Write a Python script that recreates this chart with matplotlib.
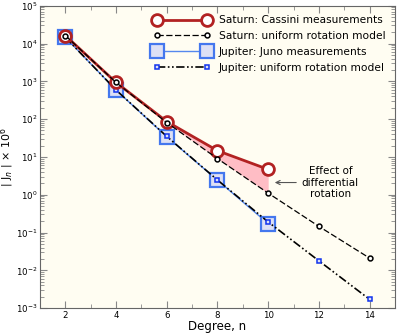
import matplotlib
matplotlib.use("Agg")
import matplotlib.pyplot as plt
import numpy as np

n_meas_sat = [2, 4, 6, 8, 10]
sat_cassini = [16290.57, 935.31, 86.34, 14.624, 4.672]
n_model = [2, 4, 6, 8, 10, 12, 14]
sat_uniform = [16290.0, 935.0, 81.0, 9.0, 1.1, 0.145, 0.021]
n_meas_jup = [2, 4, 6, 8, 10]
jup_juno = [14696.5, 586.6, 34.2, 2.42, 0.172]
jup_uniform = [14696.0, 590.0, 34.9, 2.45, 0.19, 0.0178, 0.0017]

fig = plt.figure(figsize=(3.99, 3.36), dpi=100)
ax = fig.add_axes([0.100, 0.083, 0.890, 0.900])
ax.set_facecolor('#fffdf2')

# fill region (effect of differential rotation)
ax.fill_between(n_meas_sat[2:], sat_cassini[2:], sat_uniform[2:5],
                color='#ffb6c1', alpha=0.9, lw=0, zorder=1)

ax.plot(n_meas_sat, sat_cassini, '-o', color='#b22222', lw=2.0,
        ms=8.5, mfc='white', mec='#b22222', mew=2.0,
        label='Saturn: Cassini measurements', zorder=4)
ax.plot(n_model, sat_uniform, '--o', color='black', lw=0.9,
        ms=3.5, mfc='white', mec='black', mew=1.1, dashes=(5, 2),
        label='Saturn: uniform rotation model', zorder=5)
ax.plot(n_meas_jup, jup_juno, '-s', color='#5588ee', lw=1.0,
        ms=9.5, mfc='#dde0f5', mec='#4477ee', mew=1.6,
        label='Jupiter: Juno measurements', zorder=2)
ax.plot(n_model, jup_uniform, 's', color='black', lw=1.2, ls=(0, (5, 1.5, 1, 1.5, 1, 1.5)),
        ms=3.2, mfc='#dde0f5', mec='#1133ee', mew=1.1,
        label='Jupiter: uniform rotation model', zorder=3)

ax.set_yscale('log')
ax.set_xlim(1, 15)
ax.set_ylim(1e-3, 1e5)
ax.set_xticks([2, 4, 6, 8, 10, 12, 14])
ax.set_xticks(np.arange(1, 16, 1), minor=True)
ax.tick_params(axis='both', which='both', direction='in', colors='#888888',
               labelcolor='black', labelsize=6.2, top=True, right=True, pad=2)
ax.tick_params(which='major', length=5)
ax.tick_params(which='minor', length=3)
for s in ax.spines.values():
    s.set_color('#666666')

ax.set_xlabel('Degree, n', fontsize=8.5, labelpad=0)
ax.set_ylabel('| J$_n$ | × 10$^6$', fontsize=8.0)
ax.yaxis.set_label_coords(-0.066, 0.5)

ax.annotate('Effect of\ndifferential\nrotation', xy=(10.15, 2.1), xytext=(12.45, 2.1),
            ha='center', va='center', fontsize=7.5,
            arrowprops=dict(arrowstyle='->', color='#555555', lw=0.8))

leg = ax.legend(loc='upper right', fontsize=7.7, frameon=False, handlelength=5.3,
                numpoints=2, borderaxespad=0.6, labelspacing=0.55, handletextpad=0.8,
                borderpad=0.3)

fig.savefig('out.png', dpi=100)
